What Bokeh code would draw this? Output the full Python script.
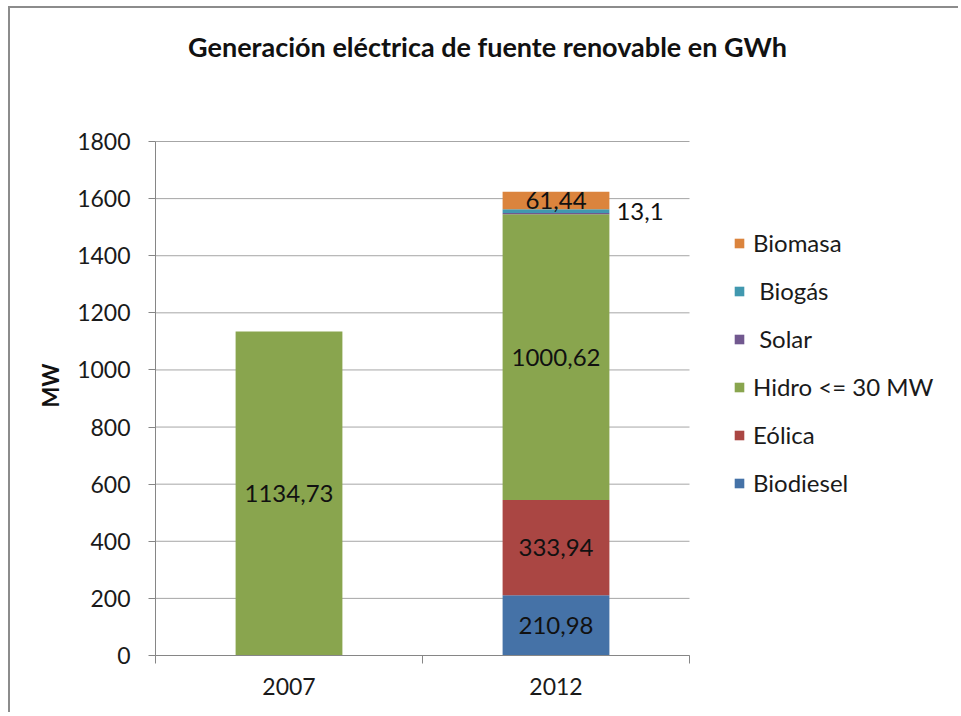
import math
from bokeh.plotting import figure
from bokeh.models import Range1d, FixedTicker, LinearAxis, Legend, LegendItem, ColumnDataSource, Label
from bokeh.core.properties import value
from bokeh.embed import file_html
from bokeh.resources import INLINE

title = "Generación eléctrica de fuente renovable en GWh"
y_title = "MW"
years = ["2007", "2012"]
series = ["Biodiesel", "Eólica", "Hidro <= 30 MW", " Solar", " Biogás", "Biomasa"]
biodiesel = [0, 210.98]
eolica = [0, 333.94]
hidro = [1134.73, 1000.62]
solar = [0, 4.0]
biogas = [0, 13.1]
biomasa = [0, 61.44]
colors = ["#4572A7", "#AA4643", "#89A54E", "#71588F", "#4198AF", "#DB843D"]
label_mode = ["center", "center", "center", "none", "outside", "center"]
y_ticks = list(range(0, 1801, 200))
y_max = 1800

FONT = "Lato"
values = [biodiesel, eolica, hidro, solar, biogas, biomasa]
keys = ["s%d" % i for i in range(len(series))]
xs = [i + 0.5 for i in range(len(years))]
data = {"x": xs}
for k, v in zip(keys, values):
    data[k] = v
src = ColumnDataSource(data)

# layout (pixels, inside the canvas)
W, H = 950, 706
PLOT_L, PLOT_T = 145, 133           # top-left corner of the chart area
PLOT_W, PLOT_H = 534, 514          # chart area size
PLOT_B = H - PLOT_T - PLOT_H       # space below chart area
x_start = -len(years) * PLOT_L / PLOT_W
x_end = len(years) * (W - PLOT_L) / PLOT_W
y_start = -y_max * PLOT_B / PLOT_H
y_end = y_max * (PLOT_H + PLOT_T) / PLOT_H

p = figure(width=W, height=H, x_range=Range1d(x_start, x_end), y_range=Range1d(y_start, y_end),
           x_axis_type=None, y_axis_type=None, output_backend="svg", toolbar_location=None,
           min_border=0)
p.outline_line_color = None
p.styles = {"border-left": "2px solid #8c8c8c", "border-top": "2px solid #8c8c8c",
            "margin-left": "8px", "margin-top": "6px"}

# gridlines only across the category area
p.segment(x0=[0] * len(y_ticks), x1=[len(years)] * len(y_ticks), y0=y_ticks, y1=y_ticks,
          line_color="#a6a6a6", line_width=1)

BAR_W = 0.4
rs = p.vbar_stack(keys, x="x", width=BAR_W, color=colors, line_color=None, source=src)

# data labels
cx, cy, ct = [], [], []
ox, oy, ot = [], [], []
for si, v in enumerate(values):
    for yi in range(len(years)):
        val = v[yi]
        if val <= 0 or label_mode[si] == "none":
            continue
        base = sum(values[k][yi] for k in range(si))
        txt = str(val).replace(".", ",")
        if label_mode[si] == "center":
            cx.append(xs[yi]); cy.append(base + val / 2); ct.append(txt)
        else:
            ox.append(xs[yi] + BAR_W / 2); oy.append(base + val / 2); ot.append(txt)
p.text(x=cx, y=cy, text=ct, text_align="center", text_baseline="middle",
       text_font=value(FONT), text_font_size="24px", text_color="#111111")
p.text(x=ox, y=oy, text=ot, text_align="left", text_baseline="middle", x_offset=7,
       text_font=value(FONT), text_font_size="24px", text_color="#111111")

# y axis, fixed at the left edge of the chart area
ya = LinearAxis(ticker=FixedTicker(ticks=y_ticks), bounds=(0, y_max), fixed_location=0,
                axis_line_color="#868686", major_tick_line_color="#868686",
                major_tick_out=7, major_tick_in=0, minor_tick_line_color=None,
                major_label_text_font=FONT, major_label_text_font_size="23px",
                major_label_text_color="#1a1a1a", major_label_standoff=18)
p.add_layout(ya, "left")

# x axis: boundary ticks + centered labels, fixed at y = 0
xa1 = LinearAxis(ticker=FixedTicker(ticks=list(range(len(years) + 1))), bounds=(0, len(years)),
                 fixed_location=0,
                 major_label_overrides={i: "" for i in range(len(years) + 1)},
                 axis_line_color="#868686", major_tick_line_color="#868686",
                 major_tick_out=8, major_tick_in=0, minor_tick_line_color=None,
                 major_label_text_font_size="1px", major_label_standoff=0)
xa2 = LinearAxis(ticker=FixedTicker(ticks=xs), fixed_location=0,
                 major_label_overrides={x: y for x, y in zip(xs, years)},
                 axis_line_color=None, major_tick_line_color=None, major_tick_out=0,
                 major_tick_in=0, minor_tick_line_color=None,
                 major_label_text_font=FONT, major_label_text_font_size="23px",
                 major_label_text_color="#1a1a1a", major_label_standoff=22)
p.add_layout(xa1, "below")
p.add_layout(xa2, "below")

# axis title and chart title (labels in screen units)
p.add_layout(Label(x=40, y=PLOT_B + 270, x_units="screen", y_units="screen", text=y_title,
                   angle=math.pi / 2, text_align="center", text_baseline="middle",
                   text_font=FONT, text_font_size="22px", text_font_style="bold",
                   text_color="#111111"))
p.add_layout(Label(x=PLOT_L + 332, y=PLOT_B + 609, x_units="screen", y_units="screen",
                   text=title, text_align="center", text_baseline="middle", text_font=FONT,
                   text_font_size="27px", text_font_style="bold", text_color="#111111"))

# legend
items = [LegendItem(label=series[i], renderers=[rs[i]]) for i in reversed(range(len(series)))]
leg = Legend(items=items, location=(PLOT_L + 578, PLOT_B + 158), orientation="vertical",
             label_text_font=FONT, label_text_font_size="24px", label_text_color="#1a1a1a",
             glyph_width=12, glyph_height=12, label_standoff=8, label_height=26,
             spacing=19, padding=0, margin=0, border_line_color=None,
             background_fill_alpha=0)
p.add_layout(leg, "center")

open("out.html", "w").write(file_html(p, INLINE))
